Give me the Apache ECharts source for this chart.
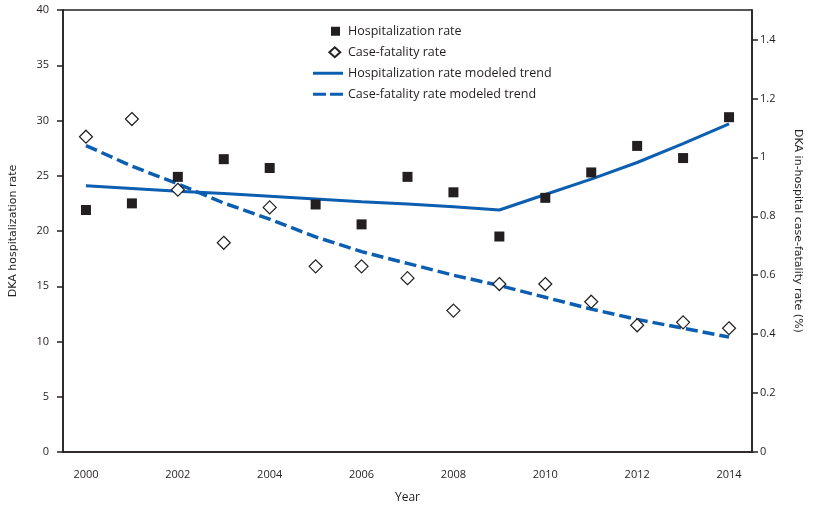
<!DOCTYPE html>
<html>
<head>
<meta charset="utf-8">
<script src="https://cdn.jsdelivr.net/npm/echarts@6/dist/echarts.min.js"></script>
<style>
  html, body { margin: 0; padding: 0; background: #fff; }
  #chart { width: 814px; height: 509px; }
</style>
</head>
<body>
<div id="chart"></div>
<script>
// data
const years = ['2000','2001','2002','2003','2004','2005','2006','2007','2008','2009','2010','2011','2012','2013','2014'];
const hospRate = [21.9, 22.5, 24.9, 26.5, 25.7, 22.4, 20.6, 24.9, 23.5, 19.5, 23.0, 25.3, 27.7, 26.6, 30.3];
const cfRate = [1.07, 1.13, 0.89, 0.71, 0.83, 0.63, 0.63, 0.59, 0.48, 0.57, 0.57, 0.51, 0.43, 0.44, 0.42];
const hospTrend = [24.1, 23.85, 23.6, 23.4, 23.15, 22.9, 22.65, 22.45, 22.2, 21.9, 23.3, 24.7, 26.2, 27.9, 29.7];
const cfTrend = [1.04, 0.97, 0.91, 0.845, 0.79, 0.73, 0.68, 0.64, 0.60, 0.565, 0.525, 0.485, 0.45, 0.42, 0.39];
const leftTicks = [0, 5, 10, 15, 20, 25, 30, 35, 40];
const rightTicks = [0, 0.2, 0.4, 0.6, 0.8, 1, 1.2, 1.4];

const blue = '#0b5eb0';
const ink = '#231f20';
const tickFont = "'Open Sans', sans-serif";
const nameFont = "'DejaVu Sans', Verdana, sans-serif";

// legend icons drawn inside a 30x10 box (the bare M points keep the box size)
const iconSquare = 'path://M0,0 M30,10 M18,0.5 L27,0.5 L27,9.5 L18,9.5 Z';
const iconDiamond = 'path://M0,0 M30,10 M16.5,5 L22.5,-0.5 L28.5,5 L22.5,10.5 Z';
const iconSolid = 'path://M0,0 M30,10 M0,3.5 L30,3.5 L30,6.5 L0,6.5 Z';
const iconDashed = 'path://M0,0 M30,10 M0,3.5 L13,3.5 L13,6.5 L0,6.5 Z M17,3.5 L30,3.5 L30,6.5 L17,6.5 Z';

const chart = echarts.init(document.getElementById('chart'), null, { renderer: 'canvas' });

const option = {
  animation: false,
  backgroundColor: '#fff',
  grid: {
    left: 62, right: 62, top: 10, bottom: 56,
    show: true, borderColor: ink, borderWidth: 1.5
  },
  legend: {
    orient: 'vertical',
    left: 313, top: 23,
    padding: 0,
    itemWidth: 30, itemHeight: 10, itemGap: 4.5,
    textStyle: { fontFamily: tickFont, fontSize: 12.5, color: ink, lineHeight: 16.5 },
    data: [
      { name: 'Hospitalization rate', icon: iconSquare },
      { name: 'Case-fatality rate', icon: iconDiamond },
      { name: 'Hospitalization rate modeled trend', icon: iconSolid },
      { name: 'Case-fatality rate modeled trend', icon: iconDashed }
    ]
  },
  xAxis: {
    type: 'category',
    data: years,
    boundaryGap: true,
    name: 'Year',
    nameLocation: 'middle',
    nameGap: 40,
    nameTextStyle: { fontFamily: tickFont, fontSize: 12, color: ink },
    axisLine: { lineStyle: { color: ink, width: 1.5 } },
    axisTick: { alignWithLabel: true, interval: 0, length: 6, lineStyle: { color: ink, width: 1.5 } },
    axisLabel: { interval: 1, margin: 17, fontFamily: tickFont, fontSize: 11, color: ink },
    splitLine: { show: false }
  },
  yAxis: [
    {
      type: 'value',
      min: 0, max: 40, interval: 5,
      name: 'DKA hospitalization rate',
      nameLocation: 'middle',
      nameGap: 44,
      nameTextStyle: { fontFamily: nameFont, fontSize: 11, color: ink },
      axisLine: { show: true, lineStyle: { color: ink, width: 1.5 } },
      axisTick: { show: true, length: 6, lineStyle: { color: ink, width: 1.5 } },
      axisLabel: { margin: 14, fontFamily: tickFont, fontSize: 11, color: ink, customValues: leftTicks },
      splitLine: { show: false }
    },
    {
      type: 'value',
      min: 0, max: 1.5,
      name: 'DKA in-hospital case-fatality rate (%)',
      nameLocation: 'middle',
      nameRotate: -90,
      nameGap: 40,
      nameTextStyle: { fontFamily: nameFont, fontSize: 11, color: ink },
      axisLine: { show: true, lineStyle: { color: ink, width: 1.5 } },
      axisTick: { show: true, length: 6, lineStyle: { color: ink, width: 1.5 }, customValues: rightTicks },
      axisLabel: { margin: 8, fontFamily: tickFont, fontSize: 11, color: ink, customValues: rightTicks },
      splitLine: { show: false }
    }
  ],
  series: [
    {
      name: 'Hospitalization rate modeled trend',
      type: 'line',
      yAxisIndex: 0,
      data: hospTrend,
      symbol: 'none',
      lineStyle: { color: blue, width: 3 },
      itemStyle: { color: blue },
      z: 2
    },
    {
      name: 'Case-fatality rate modeled trend',
      type: 'line',
      yAxisIndex: 1,
      data: cfTrend,
      symbol: 'none',
      lineStyle: { color: blue, width: 3.5, type: [12, 5] },
      itemStyle: { color: blue },
      z: 2
    },
    {
      name: 'Hospitalization rate',
      type: 'scatter',
      yAxisIndex: 0,
      data: hospRate,
      symbol: 'rect',
      symbolSize: 10,
      itemStyle: { color: ink, opacity: 1 },
      z: 3
    },
    {
      name: 'Case-fatality rate',
      type: 'scatter',
      yAxisIndex: 1,
      data: cfRate,
      symbol: 'diamond',
      symbolSize: [13, 13],
      itemStyle: { color: '#fff', borderColor: ink, borderWidth: 1.2, opacity: 1 },
      z: 3
    }
  ]
};

chart.setOption(option);
</script>
</body>
</html>
